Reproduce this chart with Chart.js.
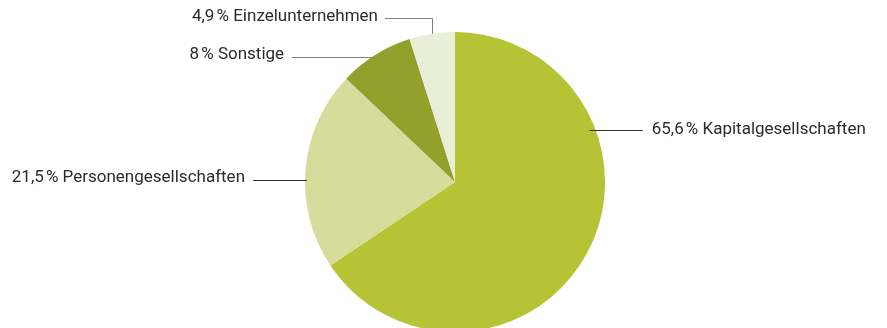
<!DOCTYPE html>
<html>
<head>
<meta charset="utf-8">
<script src="https://cdn.jsdelivr.net/npm/chart.js@4"></script>
<style>
  html, body { margin: 0; padding: 0; background: #fff; overflow: hidden; }
  #wrap { position: relative; width: 887px; height: 340px; }
</style>
</head>
<body>
<div id="wrap"><canvas id="pieChart"></canvas></div>
<script>
// Data
const categories = ['Kapitalgesellschaften', 'Personengesellschaften', 'Sonstige', 'Einzelunternehmen'];
const shares = [65.6, 21.5, 8, 4.9];
const sliceColors = ['#b5c334', '#d6dc9b', '#93a02b', '#e9eed6'];

// Label placement (layout only): side, y of leader line, gap, line colour
const labelLayout = [
    { side: 'right', y: 130, len: 47, line: '#333' },
    { side: 'left', y: 180, len: 52, line: '#333' },
    { side: 'left', y: 57, len: 80, line: '#7d7d7d' },
    { side: 'elbow', y: 18, x: 432, len: 47, line: '#7d7d7d' }
];

function fmt(v) {
    return String(v).replace('.', ',') + '\u202F% ';
}

const leaderLabels = {
    id: 'leaderLabels',
    afterDraw(chart) {
        const ctx = chart.ctx;
        const arcs = chart.getDatasetMeta(0).data;
        if (!arcs.length) return;
        const cx = arcs[0].x, cy = arcs[0].y, r = arcs[0].outerRadius;
        ctx.save();
        ctx.font = '17px Roboto, sans-serif';
        ctx.textBaseline = 'middle';
        ctx.lineWidth = 1;
        categories.forEach((cat, i) => {
            const L = labelLayout[i];
            const text = fmt(shares[i]) + cat;
            ctx.strokeStyle = L.line;
            ctx.fillStyle = '#2b2b2b';
            ctx.beginPath();
            if (L.side === 'elbow') {
                const edgeY = cy - Math.sqrt(r * r - (L.x - cx) * (L.x - cx));
                ctx.moveTo(L.x + 0.5, edgeY);
                ctx.lineTo(L.x + 0.5, L.y + 0.5);
                ctx.lineTo(L.x - L.len, L.y + 0.5);
                ctx.stroke();
                ctx.textAlign = 'right';
                ctx.fillText(text, L.x - L.len - 7, L.y - 1);
            } else {
                const dx = Math.sqrt(r * r - (L.y - cy) * (L.y - cy));
                if (L.side === 'right') {
                    const ex = cx + dx;
                    ctx.moveTo(ex - 6, L.y + 0.5);
                    ctx.lineTo(ex + L.len, L.y + 0.5);
                    ctx.stroke();
                    ctx.textAlign = 'left';
                    ctx.fillText(text, ex + L.len + 9, L.y);
                } else {
                    const ex = cx - dx;
                    ctx.moveTo(ex + 2, L.y + 0.5);
                    ctx.lineTo(ex - L.len, L.y + 0.5);
                    ctx.stroke();
                    ctx.textAlign = 'right';
                    ctx.fillText(text, ex - L.len - 8, L.y - 2);
                }
            }
        });
        ctx.restore();
    }
};

new Chart(document.getElementById('pieChart'), {
    type: 'pie',
    data: {
        labels: categories,
        datasets: [{
            data: shares,
            backgroundColor: sliceColors,
            borderWidth: 0
        }]
    },
    options: {
        responsive: true,
        maintainAspectRatio: false,
        animation: false,
        layout: { padding: { top: 32, bottom: 8, left: 305, right: 282 } },
        plugins: {
            legend: { display: false },
            tooltip: { enabled: false }
        }
    },
    plugins: [leaderLabels]
});
</script>
</body>
</html>
